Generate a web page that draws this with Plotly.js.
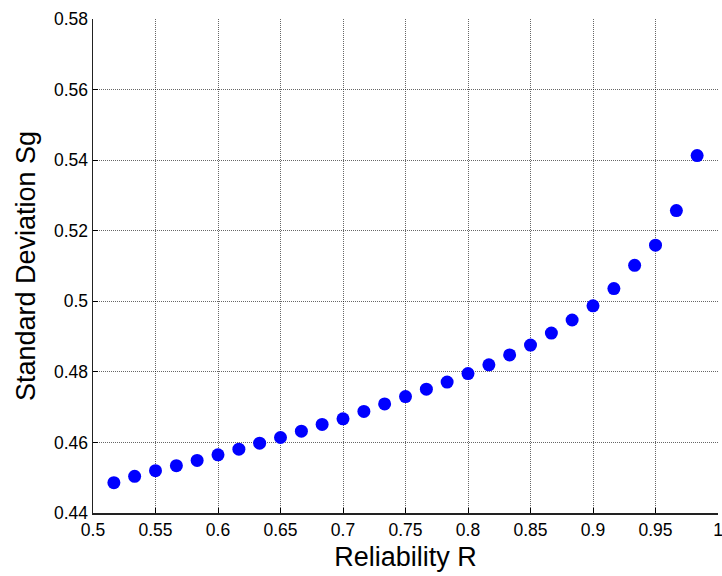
<!DOCTYPE html>
<html>
<head>
<meta charset="utf-8">
<script src="https://cdn.plot.ly/plotly-3.0.1.min.js"></script>
<style>
html,body{margin:0;padding:0;background:#fff;}
#chart{width:722px;height:576px;}
</style>
</head>
<body>
<div id="chart"></div>
<script>
// Reliability R (x) and Standard Deviation Sg (y)
const reliability = [
  0.5167, 0.5333, 0.5500, 0.5667, 0.5833, 0.6000, 0.6167, 0.6333, 0.6500, 0.6667,
  0.6833, 0.7000, 0.7167, 0.7333, 0.7500, 0.7667, 0.7833, 0.8000, 0.8167, 0.8333,
  0.8500, 0.8667, 0.8833, 0.9000, 0.9167, 0.9333, 0.9500, 0.9667, 0.9833
];
const stdDev = [
  0.4486, 0.4504, 0.4520, 0.4534, 0.4549, 0.4565, 0.4581, 0.4598, 0.4614, 0.4632,
  0.4651, 0.4667, 0.4688, 0.4709, 0.4730, 0.4751, 0.4771, 0.4795, 0.4820, 0.4848,
  0.4876, 0.4910, 0.4947, 0.4987, 0.5036, 0.5102, 0.5159, 0.5257, 0.5413
];
const xTickVals = [0.5,0.55,0.6,0.65,0.7,0.75,0.8,0.85,0.9,0.95,1];
const xTickText = ["0.5","0.55","0.6","0.65","0.7","0.75","0.8","0.85","0.9","0.95","1"];
const yTickVals = [0.44,0.46,0.48,0.5,0.52,0.54,0.56,0.58];
const yTickText = ["0.44","0.46","0.48","0.5","0.52","0.54","0.56","0.58"];

const FONT = "Liberation Sans, Arial, sans-serif";

const trace = {
  x: reliability,
  y: stdDev,
  type: "scatter",
  mode: "markers",
  marker: {color: "#0000ff", size: 13, line: {width: 0}},
  showlegend: false,
  hoverinfo: "x+y"
};

const axisCommon = {
  showline: true,
  linecolor: "#222",
  linewidth: 1.5,
  mirror: false,
  ticks: "inside",
  ticklen: 5,
  tickwidth: 1,
  tickcolor: "#000",
  showgrid: true,
  gridcolor: "rgba(0,0,0,0.6)",
  griddash: "1px,1px",
  gridwidth: 1,
  zeroline: false,
  ticklabeloverflow: "allow",
  tickfont: {family: FONT, size: 17.5, color: "#000"},
  tickmode: "array"
};

const layout = {
  width: 722,
  height: 576,
  paper_bgcolor: "#fff",
  plot_bgcolor: "#fff",
  margin: {l: 93, r: 4, t: 19, b: 63},
  font: {family: FONT, color: "#000"},
  xaxis: Object.assign({}, axisCommon, {
    range: [0.5, 1],
    tickvals: xTickVals,
    ticktext: xTickText,
    title: {text: "Reliability R", font: {family: FONT, size: 27, color: "#000"}, standoff: 8}
  }),
  yaxis: Object.assign({}, axisCommon, {
    range: [0.44, 0.58],
    tickvals: yTickVals,
    ticktext: yTickText,
    title: {text: "Standard Deviation Sg", font: {family: FONT, size: 27, color: "#000"}, standoff: 10}
  })
};

Plotly.newPlot("chart", [trace], layout, {displayModeBar: false, staticPlot: true});
</script>
</body>
</html>
